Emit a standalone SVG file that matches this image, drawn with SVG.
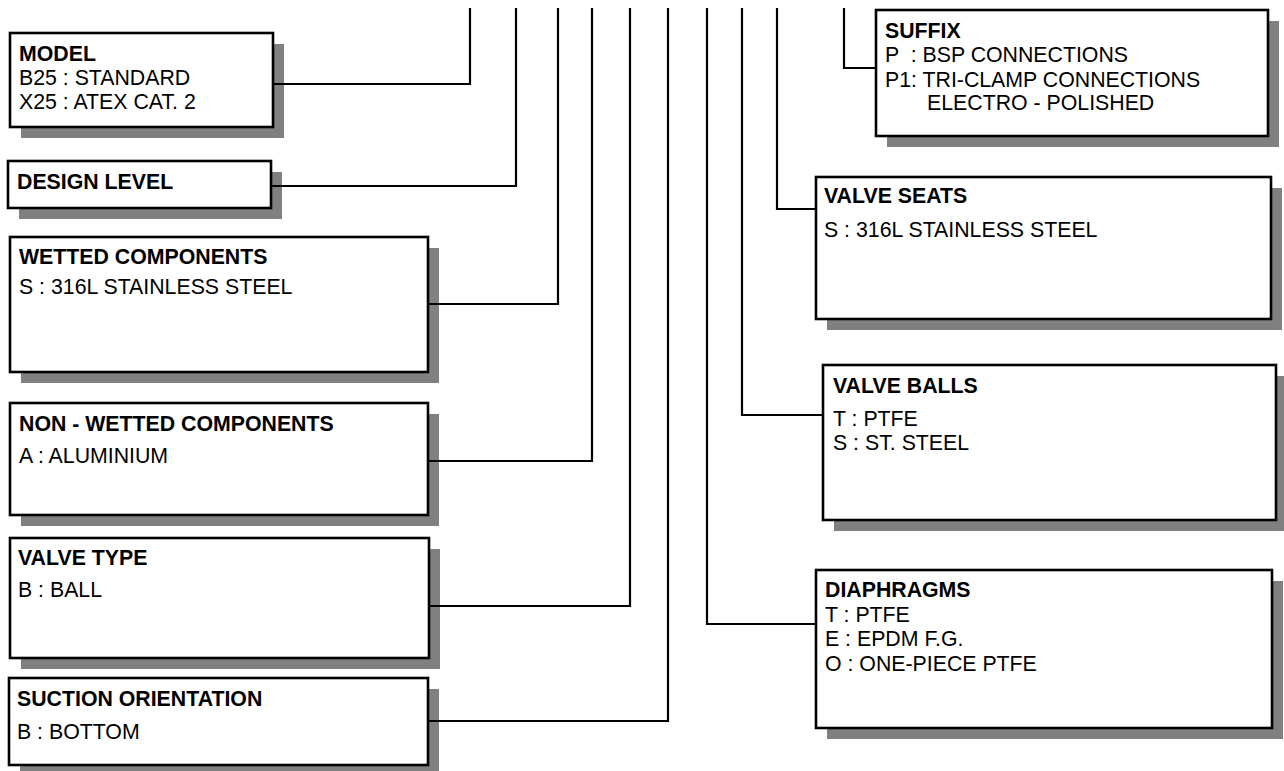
<svg xmlns="http://www.w3.org/2000/svg" width="1284" height="771" viewBox="0 0 1284 771">
<style>
.sh{fill:#808080}
.bx{fill:#fff;stroke:#000;stroke-width:2.6}
.ln{fill:none;stroke:#000;stroke-width:2.2}
text{font-family:"Liberation Sans",Arial,sans-serif;font-size:21.3px;fill:#000}
.t{font-weight:bold}
</style>
<rect width="1284" height="771" fill="#fff"/>
<g id="model">
<rect class="sh" x="21" y="44" width="263" height="94"/>
<rect class="bx" x="10" y="33" width="263" height="94"/>
<text class="t" x="19" y="61">MODEL</text>
<text x="19" y="85">B25 : STANDARD</text>
<text x="19" y="109">X25 : ATEX CAT. 2</text>
</g>
<g id="design-level">
<rect class="sh" x="19" y="172" width="263" height="47"/>
<rect class="bx" x="8" y="161" width="263" height="47"/>
<text class="t" x="17" y="189">DESIGN LEVEL</text>
</g>
<g id="wetted">
<rect class="sh" x="21" y="248" width="418" height="135"/>
<rect class="bx" x="10" y="237" width="418" height="135"/>
<text class="t" x="19" y="264">WETTED COMPONENTS</text>
<text x="19" y="294">S : 316L STAINLESS STEEL</text>
</g>
<g id="non-wetted">
<rect class="sh" x="21" y="414" width="418" height="112"/>
<rect class="bx" x="10" y="403" width="418" height="112"/>
<text class="t" x="19" y="431">NON - WETTED COMPONENTS</text>
<text x="19" y="463">A : ALUMINIUM</text>
</g>
<g id="valve-type">
<rect class="sh" x="21" y="549" width="419" height="120"/>
<rect class="bx" x="10" y="538" width="419" height="120"/>
<text class="t" x="18" y="565">VALVE TYPE</text>
<text x="18" y="597">B : BALL</text>
</g>
<g id="suction">
<rect class="sh" x="20" y="689" width="419" height="87"/>
<rect class="bx" x="9" y="678" width="419" height="87"/>
<text class="t" x="17" y="706">SUCTION ORIENTATION</text>
<text x="17" y="739">B : BOTTOM</text>
</g>
<g id="suffix">
<rect class="sh" x="887" y="21" width="392" height="126"/>
<rect class="bx" x="876" y="10" width="392" height="126"/>
<text class="t" x="885" y="38">SUFFIX</text>
<text x="885" y="62" xml:space="preserve">P  : BSP CONNECTIONS</text>
<text x="885" y="87">P1: TRI-CLAMP CONNECTIONS</text>
<text x="927" y="110">ELECTRO - POLISHED</text>
</g>
<g id="valve-seats">
<rect class="sh" x="827" y="188" width="455" height="142"/>
<rect class="bx" x="816" y="177" width="455" height="142"/>
<text class="t" x="824" y="203">VALVE SEATS</text>
<text x="824" y="237">S : 316L STAINLESS STEEL</text>
</g>
<g id="valve-balls">
<rect class="sh" x="834" y="376" width="453" height="155"/>
<rect class="bx" x="823" y="365" width="453" height="155"/>
<text class="t" x="833" y="393">VALVE BALLS</text>
<text x="833" y="426">T : PTFE</text>
<text x="833" y="450">S : ST. STEEL</text>
</g>
<g id="diaphragms">
<rect class="sh" x="827" y="581" width="456" height="158"/>
<rect class="bx" x="816" y="570" width="456" height="158"/>
<text class="t" x="825" y="597">DIAPHRAGMS</text>
<text x="825" y="622">T : PTFE</text>
<text x="825" y="646">E : EPDM F.G.</text>
<text x="825" y="671">O : ONE-PIECE PTFE</text>
</g>
<g id="connectors">
<polyline class="ln" points="274,84 470,84 470,8"/>
<polyline class="ln" points="272,186 516,186 516,8"/>
<polyline class="ln" points="429,304 558,304 558,8"/>
<polyline class="ln" points="429,461 592,461 592,8"/>
<polyline class="ln" points="430,606 630,606 630,8"/>
<polyline class="ln" points="429,721 668,721 668,8"/>
<polyline class="ln" points="816,624 707,624 707,8"/>
<polyline class="ln" points="823,415 742,415 742,8"/>
<polyline class="ln" points="816,209 777,209 777,8"/>
<polyline class="ln" points="876,68 844,68 844,8"/>
</g>
</svg>
